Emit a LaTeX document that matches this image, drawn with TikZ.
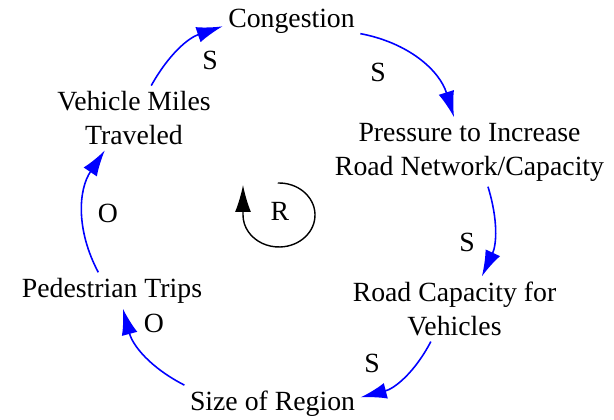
\documentclass[tikz,border=0pt]{standalone}
\usepackage{fontspec}
\setmainfont{LiberationSerif}[Extension=.ttf,UprightFont=*-Regular,
  BoldFont=*-Bold,ItalicFont=*-Italic,BoldItalicFont=*-BoldItalic]
\usepackage{tikz}
\usetikzlibrary{arrows.meta}
\definecolor{LinkBlue}{HTML}{0000FF}
\definecolor{LoopBlack}{HTML}{000000}

\begin{document}
\begin{tikzpicture}[x=0.02cm,y=0.02cm,
    font=\rmfamily\fontsize{15.8}{19.35}\selectfont,
    var/.style={inner sep=3pt,align=center},
    link/.style={draw=LinkBlue,line width=0.9pt,
                 -{Latex[length=0.52cm,width=0.32cm]}},
    sign/.style={inner sep=0pt}]
  \useasboundingbox (0,0) rectangle (614,419);

  % variables
  \node[var] (cong)    at (291.5,397.5) {Congestion};
  \node[var] (press)   at (469.5,267)   {Pressure to Increase\\Road Network/Capacity};
  \node[var] (roadcap) at (454.5,110)   {Road Capacity for\\Vehicles};
  \node[var] (size)    at (272.5,15.5)  {Size of Region};
  \node[var] (ped)     at (112,128.5)   {Pedestrian Trips};
  \node[var] (vmt)     at (134,301)     {Vehicle Miles\\Traveled};

  % causal links
  \draw[link] (vmt.62)          to[bend left=21] (cong.184);
  \draw[link] (cong.350)        to[bend left=31] (press.114);
  \draw[link] (press.298)       to[bend left=21] (roadcap.50);
  \draw[link] (roadcap.234)     to[bend left=24] (size.4);
  \draw[link] (size.north west) to[bend left=24] (ped.301);
  \draw[link] (ped.127)         to[bend left=31] (vmt.228);

  % polarities
  \node[sign] (s1) at (210,359) {S};
  \node[sign] (s2) at (378,347) {S};
  \node[sign] (s3) at (467,177) {S};
  \node[sign] (s4) at (372,56)  {S};
  \node[sign] (o5) at (154,96)  {O};
  \node[sign] (o6) at (108,206) {O};

  % loop marker
  \coordinate (loop) at (279,204);
  \node[sign] (rlabel) at (280,208) {R};
  \draw[LoopBlack,line width=0.8pt,-{Latex[length=0.54cm,width=0.32cm]}]
    (loop) ++(92:36 and 32)
    arc[start angle=92,end angle=-180,x radius=36,y radius=32] -- ++(0,30);
\end{tikzpicture}
\end{document}
